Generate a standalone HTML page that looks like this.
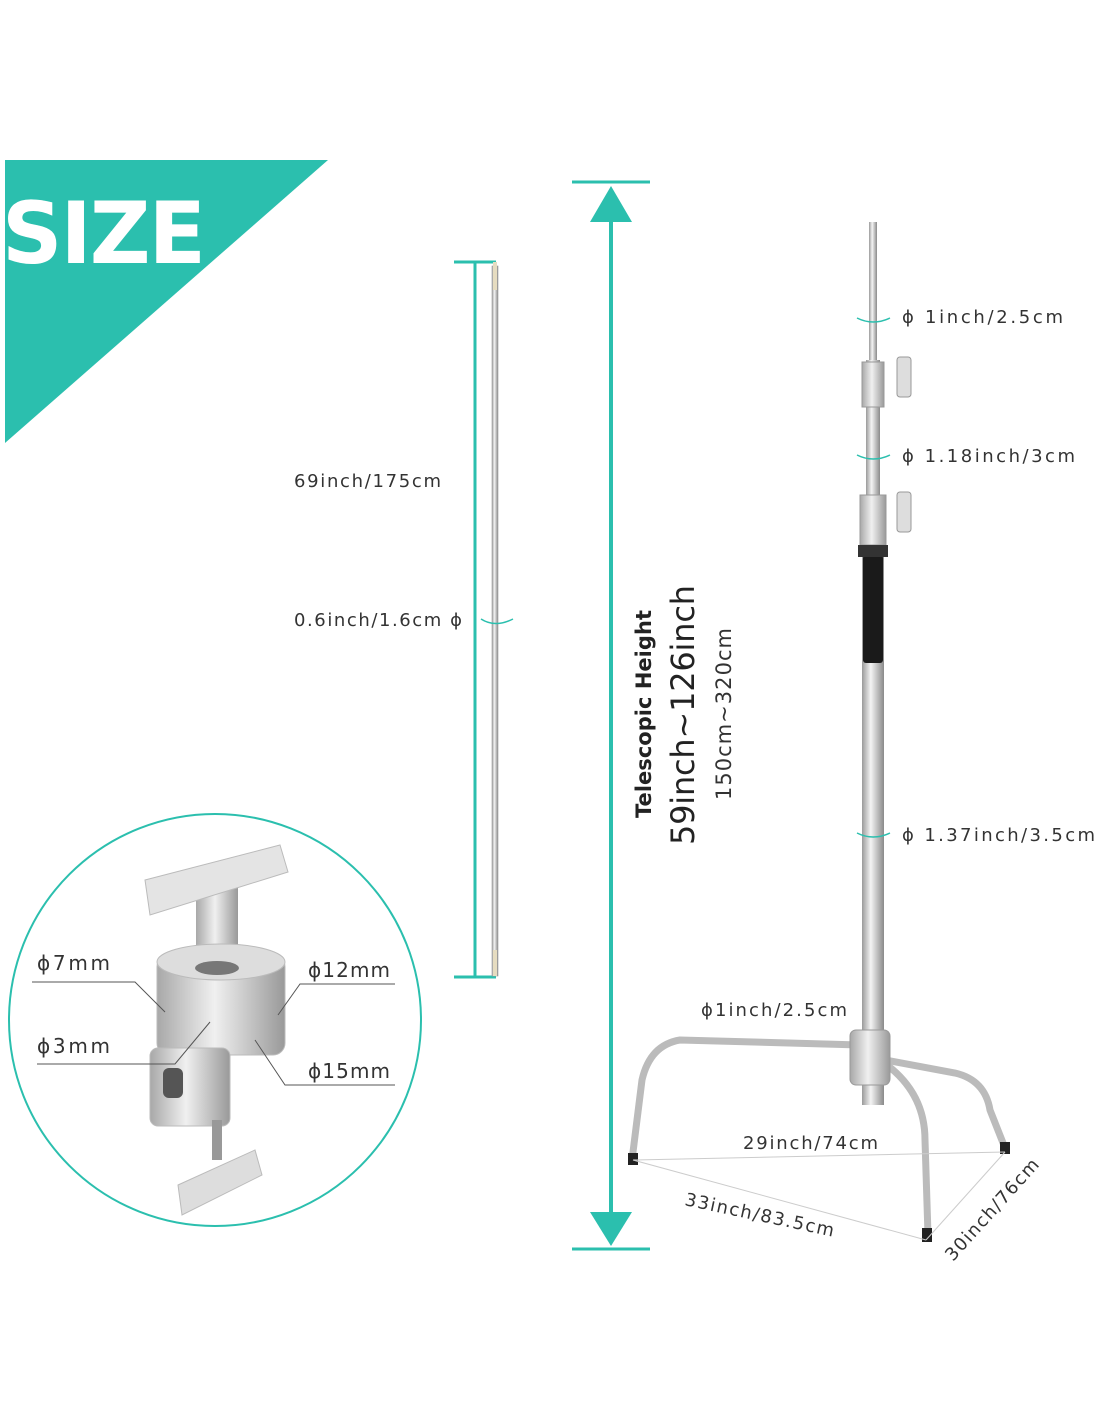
<!DOCTYPE html>
<html><head><style>
html,body{margin:0;padding:0;background:#fff;}
svg{display:block;}
text{font-family:"DejaVu Sans","Liberation Sans",sans-serif;}
</style></head><body>
<svg width="1100" height="1422" viewBox="0 0 1100 1422" xmlns="http://www.w3.org/2000/svg">
<defs>
<linearGradient id="pole" x1="0" x2="1" y1="0" y2="0">
<stop offset="0" stop-color="#9a9a9a"/><stop offset="0.4" stop-color="#f4f4f4"/><stop offset="1" stop-color="#8a8a8a"/>
</linearGradient>
<linearGradient id="metal" x1="0" x2="1" y1="0" y2="0">
<stop offset="0" stop-color="#a8a8a8"/><stop offset="0.45" stop-color="#f0f0f0"/><stop offset="1" stop-color="#999"/>
</linearGradient>
</defs>
<polygon points="5,160 328,160 5,443" fill="#2bbfae"/>
<text x="2" y="263" font-size="86" font-weight="bold" fill="#fff" letter-spacing="-2" textLength="202" lengthAdjust="spacingAndGlyphs">SIZE</text>

<line x1="475" y1="262" x2="475" y2="977" stroke="#2bbfae" stroke-width="3"/>
<line x1="454" y1="262" x2="496" y2="262" stroke="#2bbfae" stroke-width="3"/>
<line x1="454" y1="977" x2="496" y2="977" stroke="#2bbfae" stroke-width="3"/>
<rect x="492" y="266" width="6" height="710" fill="url(#pole)" stroke="#999" stroke-width="0.6"/>
<rect x="493" y="262" width="4" height="28" fill="#e6dcc0"/>
<rect x="493" y="950" width="4" height="26" fill="#e6dcc0"/>
<path d="M481,619 Q495,628 513,619" fill="none" stroke="#2bbfae" stroke-width="1.5"/>
<text x="294" y="487" font-size="18" fill="#333" textLength="147">69inch/175cm</text>
<text x="294" y="626" font-size="18" fill="#333" textLength="168">0.6inch/1.6cm ϕ</text>

<line x1="572" y1="182" x2="650" y2="182" stroke="#2bbfae" stroke-width="3"/>
<line x1="572" y1="1249" x2="650" y2="1249" stroke="#2bbfae" stroke-width="3"/>
<line x1="611" y1="200" x2="611" y2="1230" stroke="#2bbfae" stroke-width="4"/>
<polygon points="611,186 590,222 632,222" fill="#2bbfae"/>
<polygon points="611,1246 590,1212 632,1212" fill="#2bbfae"/>
<text transform="translate(651,818) rotate(-90)" font-size="21" font-weight="bold" fill="#222" textLength="208">Telescopic Height</text>
<text transform="translate(694,845) rotate(-90)" font-size="32" fill="#222" textLength="260">59inch~126inch</text>
<text transform="translate(731,800) rotate(-90)" font-size="21" fill="#333" textLength="172">150cm~320cm</text>

<rect x="869" y="222" width="8" height="140" fill="url(#pole)"/>
<rect x="866" y="360" width="14" height="190" fill="url(#pole)"/>
<rect x="862" y="545" width="22" height="560" fill="url(#pole)"/>
<rect x="863" y="555" width="20" height="108" rx="3" fill="#1a1a1a"/>
<rect x="862" y="362" width="22" height="45" fill="url(#metal)" stroke="#999"/>
<rect x="897" y="357" width="14" height="40" rx="3" fill="#ddd" stroke="#999"/>
<rect x="860" y="495" width="26" height="50" fill="url(#metal)" stroke="#999"/>
<rect x="897" y="492" width="14" height="40" rx="3" fill="#ddd" stroke="#999"/>
<rect x="858" y="545" width="30" height="12" fill="#333"/>
<path d="M860,1045 L680,1040 Q650,1045 642,1080 L632,1160" fill="none" stroke="#bbb" stroke-width="7"/>
<path d="M880,1060 Q925,1090 925,1140 L928,1235" fill="none" stroke="#bbb" stroke-width="7"/>
<path d="M885,1060 L955,1073 Q985,1080 990,1110 L1005,1148" fill="none" stroke="#bbb" stroke-width="7"/>
<rect x="850" y="1030" width="40" height="55" rx="6" fill="url(#metal)" stroke="#999"/>
<rect x="628" y="1153" width="10" height="12" fill="#222"/>
<rect x="922" y="1228" width="10" height="14" fill="#222"/>
<rect x="1000" y="1142" width="10" height="12" fill="#222"/>
<line x1="633" y1="1160" x2="1005" y2="1152" stroke="#ccc" stroke-width="1"/>
<line x1="633" y1="1160" x2="926" y2="1240" stroke="#ccc" stroke-width="1"/>
<line x1="926" y1="1240" x2="1005" y2="1152" stroke="#ccc" stroke-width="1"/>
<path d="M857,318 Q873,326 890,318" fill="none" stroke="#2bbfae" stroke-width="1.5"/>
<path d="M857,455 Q873,463 890,455" fill="none" stroke="#2bbfae" stroke-width="1.5"/>
<path d="M857,833 Q873,841 890,833" fill="none" stroke="#2bbfae" stroke-width="1.5"/>
<text x="902" y="323" font-size="18" fill="#333" textLength="161">ϕ  1inch/2.5cm</text>
<text x="902" y="462" font-size="18" fill="#333" textLength="173">ϕ  1.18inch/3cm</text>
<text x="902" y="841" font-size="18" fill="#333" textLength="193">ϕ  1.37inch/3.5cm</text>
<text x="701" y="1016" font-size="18" fill="#333" textLength="146">ϕ1inch/2.5cm</text>
<text x="743" y="1149" font-size="18" fill="#333" textLength="135">29inch/74cm</text>
<text transform="translate(684,1205) rotate(12)" font-size="18" fill="#333" textLength="152">33inch/83.5cm</text>
<text transform="translate(953,1262) rotate(-48)" font-size="18" fill="#333" textLength="130">30inch/76cm</text>

<circle cx="215" cy="1020" r="206" fill="#fff" stroke="#2bbfae" stroke-width="2"/>
<rect x="196" y="880" width="42" height="90" fill="url(#metal)"/>
<path d="M145,880 L280,845 L288,872 L150,915 Z" fill="#e4e4e4" stroke="#bbb"/>
<rect x="157" y="955" width="128" height="100" rx="12" fill="url(#metal)" stroke="#bbb"/>
<ellipse cx="221" cy="962" rx="64" ry="18" fill="#ddd" stroke="#bbb"/>
<ellipse cx="217" cy="968" rx="22" ry="7" fill="#777"/>
<rect x="150" y="1048" width="80" height="78" rx="8" fill="url(#metal)" stroke="#bbb"/>
<rect x="163" y="1068" width="20" height="30" rx="6" fill="#555"/>
<rect x="212" y="1120" width="10" height="40" fill="#999"/>
<path d="M178,1185 L255,1150 L262,1175 L182,1215 Z" fill="#ddd" stroke="#bbb"/>
<polyline points="32,982 135,982 165,1012" fill="none" stroke="#555"/>
<polyline points="37,1064 175,1064 210,1022" fill="none" stroke="#555"/>
<polyline points="395,984 300,984 278,1015" fill="none" stroke="#555"/>
<polyline points="395,1085 285,1085 255,1040" fill="none" stroke="#555"/>
<text x="37" y="970" font-size="20" fill="#333" textLength="73">ϕ7mm</text>
<text x="37" y="1053" font-size="20" fill="#333" textLength="73">ϕ3mm</text>
<text x="308" y="977" font-size="20" fill="#333" textLength="82">ϕ12mm</text>
<text x="308" y="1078" font-size="20" fill="#333" textLength="82">ϕ15mm</text>
</svg>
</body></html>
